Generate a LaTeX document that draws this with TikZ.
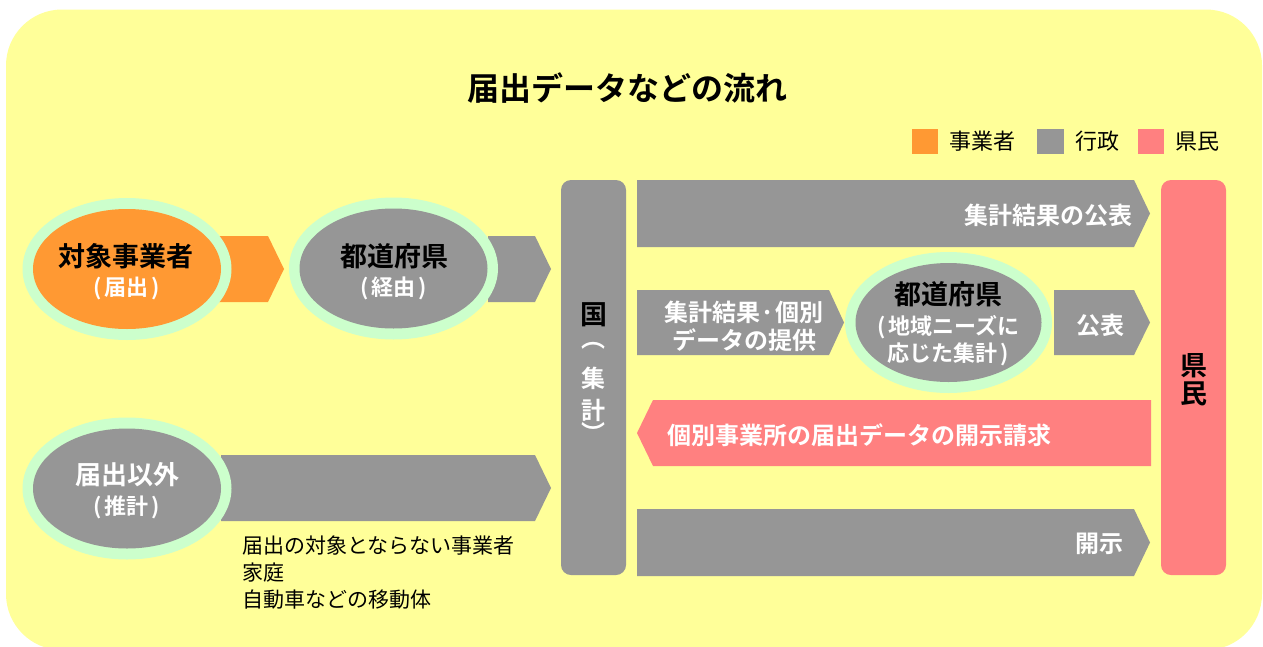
\documentclass[tikz,border=0pt]{standalone}
\usepackage{fontspec}
\newfontfamily\jp{Noto Sans CJK JP}[BoldFont={Noto Sans CJK JP Bold}]
\definecolor{bgyellow}{HTML}{FFFF99}
\definecolor{orangeB}{HTML}{FF9933}
\definecolor{grayB}{HTML}{969696}
\definecolor{pinkB}{HTML}{FF8080}
\definecolor{ringG}{HTML}{CCFFCC}
\newcommand{\lp}{(\hspace{3pt}}
\newcommand{\rp}{\hspace{3pt})}
\tikzset{
  bigtxt/.style={font=\jp\bfseries\fontsize{27pt}{30pt}\selectfont, text=black, inner sep=0pt},
  subtxt/.style={font=\jp\bfseries\fontsize{22pt}{25pt}\selectfont, text=white, inner sep=0pt},
  arrtxt/.style={font=\jp\bfseries\fontsize{24pt}{27pt}\selectfont, text=white, inner sep=0pt},
  plaintxt/.style={font=\jp\fontsize{21pt}{24pt}\selectfont, text=black, inner sep=0pt},
  legtxt/.style={font=\jp\fontsize{22pt}{25pt}\selectfont, text=black, inner sep=0pt},
  titletxt/.style={font=\jp\bfseries\fontsize{32pt}{36pt}\selectfont, text=black, inner sep=0pt},
  colbox/.style={rounded corners=10pt},
}
\begin{document}
\begin{tikzpicture}[x=1pt,y=-1pt]
\useasboundingbox (0,0) rectangle (1263,646);
% background
\fill[bgyellow, rounded corners=56pt] (6,9.5) rectangle (1262,650);
% title
\node[titletxt] (title) at (627,88) {届出データなどの流れ};
% legend
\fill[orangeB] (912,129) rectangle (938,154);
\node[legtxt, anchor=west] (leg1) at (949,141.5) {事業者};
\fill[grayB] (1037,129) rectangle (1064,154);
\node[legtxt, anchor=west] (leg2) at (1075,141.5) {行政};
\fill[pinkB] (1138,129) rectangle (1164,154);
\node[legtxt, anchor=west] (leg3) at (1175,141.5) {県民};
% columns
\fill[grayB, colbox] (561,180) rectangle (626,575);
\fill[pinkB, colbox] (1161,180) rectangle (1226,575);
\node[bigtxt] (k1) at (593.5,315) {国};
\node[arrtxt] (k2) at (593.5,346) {︵};
\node[arrtxt] (k3) at (593.5,378) {集};
\node[arrtxt] (k4) at (593.5,410) {計};
\node[arrtxt] (k5) at (593.5,432) {︶};
\node[bigtxt] (r1) at (1193.5,366) {県};
\node[bigtxt] (r2) at (1193.5,394) {民};
% left block arrows (behind ellipses)
\fill[orangeB] (219,236) -- (268,236) -- (284,269) -- (268,302) -- (219,302) -- cycle;
\fill[grayB] (488,236) -- (535,236) -- (551,269) -- (535,302) -- (488,302) -- cycle;
\fill[grayB] (221,455) -- (535,455) -- (551,488) -- (535,521) -- (221,521) -- cycle;
% right block arrows
\fill[grayB] (637,180) -- (1134,180) -- (1150,213.5) -- (1134,247) -- (637,247) -- cycle;
\fill[grayB] (637,290) -- (829,290) -- (844,322.5) -- (829,355) -- (637,355) -- cycle;
\fill[grayB] (1054,290) -- (1134,290) -- (1150,322.5) -- (1134,355) -- (1054,355) -- cycle;
\fill[pinkB] (653,400) -- (1151,400) -- (1151,466) -- (653,466) -- (637,433) -- cycle;
\fill[grayB] (637,509) -- (1134,509) -- (1150,542.5) -- (1134,576) -- (637,576) -- cycle;
% ellipses
\fill[ringG] (127,269) ellipse [x radius=104.5pt, y radius=71pt];
\fill[orangeB] (127,269) ellipse [x radius=94pt, y radius=60pt];
\fill[ringG] (393.5,268.5) ellipse [x radius=104.5pt, y radius=71pt];
\fill[grayB] (393.5,268.5) ellipse [x radius=94pt, y radius=60pt];
\fill[ringG] (127,488.5) ellipse [x radius=104.5pt, y radius=71pt];
\fill[grayB] (127,488.5) ellipse [x radius=94pt, y radius=60pt];
\fill[ringG] (948.5,322.5) ellipse [x radius=103.5pt, y radius=70.5pt];
\fill[grayB] (948.5,322.5) ellipse [x radius=93pt, y radius=59.5pt];
% ellipse texts
\node[bigtxt] (a1) at (126,256) {対象事業者};
\node[subtxt] (a2) at (127,288) {\lp 届出\rp};
\node[bigtxt] (b1) at (394,256) {都道府県};
\node[subtxt] (b2) at (394,288) {\lp 経由\rp};
\node[arrtxt, font=\jp\bfseries\fontsize{26pt}{29pt}\selectfont] (c1) at (127,475) {届出以外};
\node[subtxt] (c2) at (127,507) {\lp 推計\rp};
\node[bigtxt] (d1) at (948.5,294) {都道府県};
\node[subtxt] (d2) at (948.5,327) {\lp 地域ニーズに};
\node[subtxt] (d3) at (948.5,354.5) {応じた集計\rp};
% arrow texts
\node[arrtxt, anchor=east] (t1) at (1133,215) {集計結果の公表};
\node[arrtxt] (t2) at (744,312) {集計結果·個別};
\node[arrtxt] (t3) at (744,340) {データの提供};
\node[arrtxt] (t4) at (1100,325) {公表};
\node[arrtxt, anchor=west] (t5) at (667,435) {個別事業所の届出データの開示請求};
\node[arrtxt, anchor=east] (t6) at (1124,544) {開示};
% list text
\node[plaintxt, anchor=west] (l1) at (242,545) {届出の対象とならない事業者};
\node[plaintxt, anchor=west] (l2) at (242,573) {家庭};
\node[plaintxt, anchor=west] (l3) at (242,600) {自動車などの移動体};
\end{tikzpicture}
\end{document}
